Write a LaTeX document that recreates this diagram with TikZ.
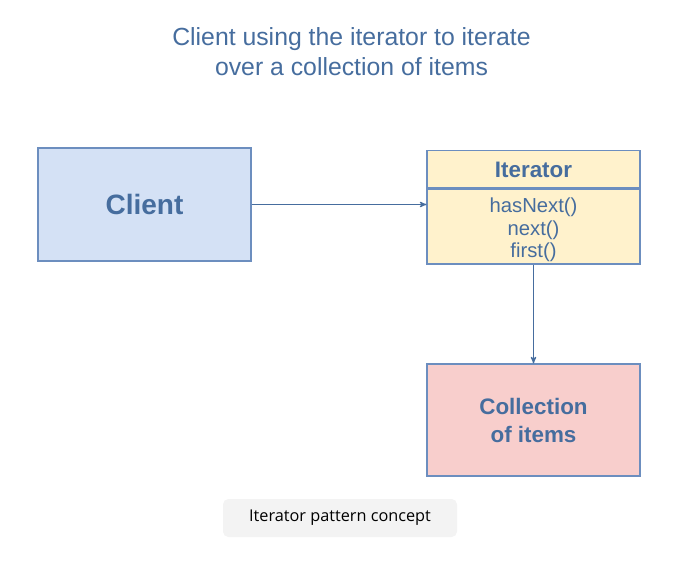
\documentclass[tikz,border=0pt]{standalone}
\usepackage{fontspec}
\setmainfont{Liberation Sans}
\newfontfamily\captionfont{Open Sans}
\usetikzlibrary{arrows,positioning}

\definecolor{bluefill}{HTML}{D4E1F5}
\definecolor{yellowfill}{HTML}{FFF2CC}
\definecolor{redfill}{HTML}{F8CECC}
\definecolor{boxline}{HTML}{6C8EBF}
\definecolor{labeltext}{HTML}{466D9E}
\definecolor{capfill}{HTML}{F3F3F3}

\tikzset{
  box/.style={draw=boxline, line width=0.8pt, rectangle, text=labeltext,
    minimum width=159.75pt, align=center, inner sep=0pt},
  link/.style={->, draw=labeltext, line width=0.8pt},
}

\begin{document}
\begin{tikzpicture}[x=0.75pt,y=-0.75pt,>=stealth',node distance=0pt]
  \useasboundingbox (0,0) rectangle (680,563);

  \node[text=labeltext, align=center, font=\fontsize{18.6}{22.5}\selectfont] (title) at (351.5,52)
    {Client using the iterator to iterate\\over a collection of items};

  \node[box, fill=bluefill, minimum height=84.75pt,
        font=\fontsize{21}{25}\selectfont\bfseries] (client) at (144.5,204.5) {Client};

  \node[box, fill=yellowfill, minimum height=56.25pt] (itBody) at (533.5,226.5) {};
  \node[box, fill=yellowfill, minimum height=27.75pt,
        font=\fontsize{16.8}{20}\selectfont\bfseries] (itHead) [above=of itBody.north, anchor=south] {Iterator};
  \node[text=labeltext, align=center, inner sep=0pt,
        font=\fontsize{15.2}{16.6}\selectfont] (itMethods) at ([yshift=-2.5pt]itBody.center)
    {hasNext()\\next()\\first()};

  \node[box, fill=redfill, minimum height=84pt,
        font=\fontsize{16.8}{21}\selectfont\bfseries] (coll) at (533.5,420) {Collection\\of items};

  \draw[link] (client.east) -- (client.east -| itBody.west);
  \draw[link] (itBody.south) -- (coll.north);

  \node[fill=capfill, rounded corners=4pt, minimum width=175.5pt, minimum height=28.5pt,
        text=black, font=\captionfont\fontsize{12.2}{14}\selectfont] (caption) at (340,518)
    {Iterator pattern concept};
\end{tikzpicture}
\end{document}
